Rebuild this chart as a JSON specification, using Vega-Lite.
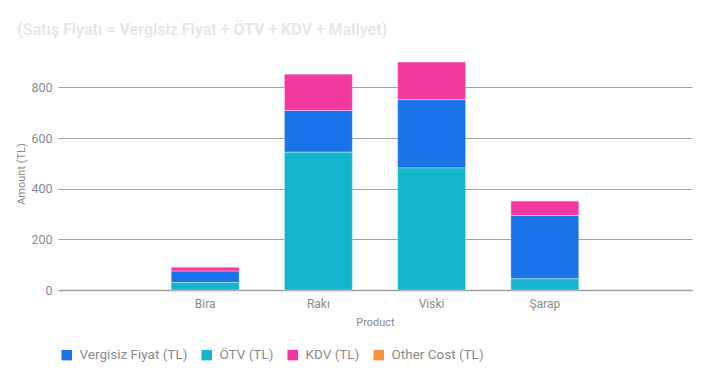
{
  "$schema": "https://vega.github.io/schema/vega-lite/v6.json",
  "autosize": "none",
  "width": 634,
  "height": 233,
  "padding": {"left": 58, "top": 57, "right": 16, "bottom": 90},
  "background": "white",
  "title": {
    "text": "(Satış Fiyatı = Vergisiz Fiyat + ÖTV + KDV + Maliyet)",
    "anchor": "start",
    "frame": "group",
    "dx": -41,
    "dy": -15,
    "font": "Roboto",
    "fontSize": 16,
    "fontWeight": "bold",
    "color": "#e6e6e6"
  },
  "config": {
    "font": "Roboto",
    "view": {"stroke": null}
  },
  "data": {
    "values": [
      {"product": "Bira", "series": "Vergisiz Fiyat (TL)", "amount": 45, "stack": 2},
      {"product": "Bira", "series": "ÖTV (TL)", "amount": 30, "stack": 1},
      {"product": "Bira", "series": "KDV (TL)", "amount": 16, "stack": 3},
      {"product": "Bira", "series": "Other Cost (TL)", "amount": 0, "stack": 4},
      {"product": "Rakı", "series": "Vergisiz Fiyat (TL)", "amount": 165, "stack": 2},
      {"product": "Rakı", "series": "ÖTV (TL)", "amount": 544, "stack": 1},
      {"product": "Rakı", "series": "KDV (TL)", "amount": 144, "stack": 3},
      {"product": "Rakı", "series": "Other Cost (TL)", "amount": 0, "stack": 4},
      {"product": "Viski", "series": "Vergisiz Fiyat (TL)", "amount": 270, "stack": 2},
      {"product": "Viski", "series": "ÖTV (TL)", "amount": 482, "stack": 1},
      {"product": "Viski", "series": "KDV (TL)", "amount": 149, "stack": 3},
      {"product": "Viski", "series": "Other Cost (TL)", "amount": 0, "stack": 4},
      {"product": "Şarap", "series": "Vergisiz Fiyat (TL)", "amount": 250, "stack": 2},
      {"product": "Şarap", "series": "ÖTV (TL)", "amount": 44, "stack": 1},
      {"product": "Şarap", "series": "KDV (TL)", "amount": 58, "stack": 3},
      {"product": "Şarap", "series": "Other Cost (TL)", "amount": 0, "stack": 4}
    ]
  },
  "mark": {"type": "bar", "stroke": "white", "strokeOpacity": 0.35, "strokeWidth": 1},
  "encoding": {
    "x": {
      "field": "product",
      "type": "nominal",
      "sort": ["Bira", "Rakı", "Viski", "Şarap"],
      "scale": {"paddingInner": 0.4, "paddingOuter": 1.03},
      "axis": {
        "title": "Product",
        "titleFont": "Roboto",
        "titleFontSize": 11,
        "titleFontWeight": "normal",
        "titleColor": "#888888",
        "titlePadding": 7,
        "labelAngle": 0,
        "labelFontSize": 12,
        "labelColor": "#8a8a8a",
        "labelPadding": 8,
        "ticks": false,
        "domainColor": "#9e9e9e",
        "domainWidth": 1.5
      }
    },
    "y": {
      "field": "amount",
      "type": "quantitative",
      "stack": "zero",
      "scale": {"domain": [0, 920], "nice": false},
      "axis": {
        "title": "Amount (TL)",
        "titleFont": "Roboto",
        "titleFontSize": 11,
        "titleFontWeight": "normal",
        "titleColor": "#888888",
        "titlePadding": 4,
        "values": [0, 200, 400, 600, 800],
        "labelFontSize": 12.5,
        "labelColor": "#8a8a8a",
        "labelPadding": 6,
        "ticks": false,
        "domain": false,
        "gridColor": "#a0a0a0",
        "gridWidth": 1.2
      }
    },
    "color": {
      "field": "series",
      "type": "nominal",
      "sort": ["Vergisiz Fiyat (TL)", "ÖTV (TL)", "KDV (TL)", "Other Cost (TL)"],
      "scale": {
        "domain": ["Vergisiz Fiyat (TL)", "ÖTV (TL)", "KDV (TL)", "Other Cost (TL)"],
        "range": ["#1a73e8", "#12b5cb", "#f538a0", "#fa903e"]
      },
      "legend": {
        "title": null,
        "orient": "none",
        "legendX": 2,
        "legendY": 291,
        "direction": "horizontal",
        "symbolType": "square",
        "symbolSize": 110,
        "symbolStrokeWidth": 0,
        "labelFontSize": 13.5,
        "labelColor": "#8a8a8a",
        "labelOffset": 6,
        "columnPadding": 12
      }
    },
    "order": {"field": "stack", "type": "quantitative"}
  }
}
